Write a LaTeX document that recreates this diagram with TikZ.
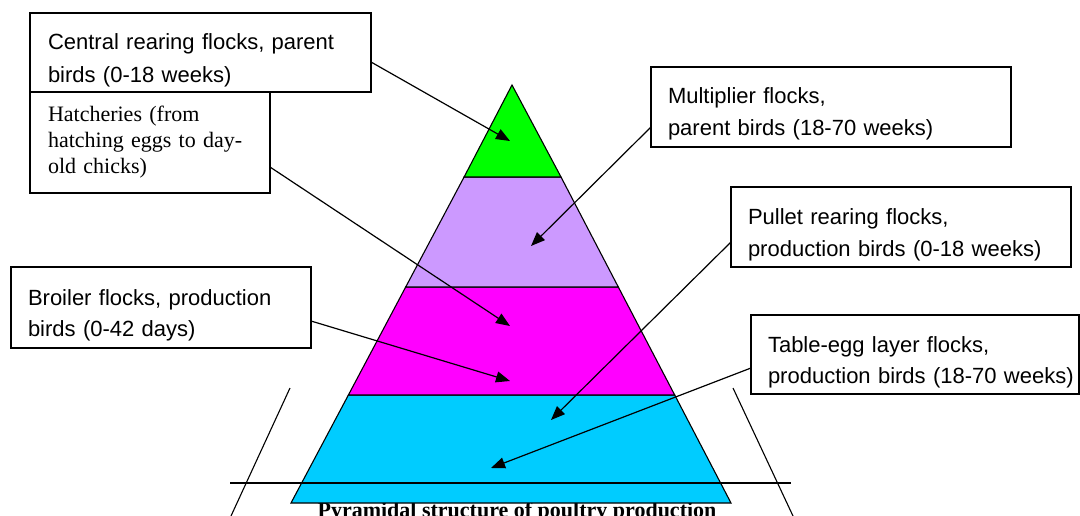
\documentclass[tikz,border=0pt]{standalone}
\usepackage{fontspec}
\setmainfont{Liberation Serif}
\newfontfamily\arial{Liberation Sans}
\usetikzlibrary{arrows.meta}
\definecolor{camadaverde}{RGB}{0,255,0}
\definecolor{camadalilas}{RGB}{204,153,255}
\definecolor{camadamagenta}{RGB}{255,0,255}
\definecolor{camadaciano}{RGB}{0,204,255}

\begin{document}
\begin{tikzpicture}[
        x=1pt, y=-1pt,
        >={Triangle[length=14pt, width=11pt]},
        quadro/.style={
            draw,
            fill=white,
            line width=1.1pt,
            anchor=north west,
            align=left,
            inner xsep=17pt,
            inner ysep=0pt,
            outer sep=0pt,
            font=\arial\fontsize{22}{32}\selectfont
        },
        flecha/.style={
            ->,
            line width=1.2pt
        },
        camada/.style={
            draw,
            line width=1.1pt
        },
        guia/.style={
            line width=1.1pt
        }
    ]
    \useasboundingbox (0,0) rectangle (1080,516);

    \node[font=\bfseries\fontsize{22}{26}\selectfont, anchor=base] (legenda) at (517,517)
        {Pyramidal structure of poultry production};

    % piramide
    \filldraw[camada, fill=camadaciano] (348.4,395) -- (674.7,395) -- (731,503) -- (291,503) -- cycle;
    \filldraw[camada, fill=camadamagenta] (405.7,287) -- (618.3,287) -- (674.7,395) -- (348.4,395) -- cycle;
    \filldraw[camada, fill=camadalilas] (464.1,177) -- (561,177) -- (618.3,287) -- (405.7,287) -- cycle;
    \filldraw[camada, fill=camadaverde] (512,85) -- (561,177) -- (464.1,177) -- cycle;

    \draw[guia] (230,483) -- (791,483);
    \draw[guia] (290,388) -- (231,516);
    \draw[guia] (733,388) -- (793,516);

    \node[quadro, inner xsep=18pt, text width=305pt, text height=37pt, text depth=42pt,
        font=\arial\fontsize{22}{33}\selectfont] (central) at (30,13) {
        Central rearing flocks, parent\\
        birds (0-18 weeks)
    };

    \node[quadro, inner xsep=18pt, text width=204pt, text height=30pt, text depth=71pt,
        font=\rmfamily\fontsize{22}{26}\selectfont] (incubatorio) at (30,92) {
        Hatcheries (from\\
        hatching eggs to day-\\
        old chicks)
    };

    \node[quadro, text width=326pt, text height=37pt, text depth=43pt] (multiplicador) at (651,67) {
        Multiplier flocks,\\
        parent birds (18-70 weeks)
    };

    \node[quadro, text width=306pt, text height=38pt, text depth=42pt] (frangas) at (731,187) {
        Pullet rearing flocks,\\
        production birds (0-18 weeks)
    };

    \node[quadro, text width=294pt, text height=37pt, text depth=42pt] (poedeiras) at (751,315) {
        Table-egg layer flocks,\\
        \mbox{production birds (18-70 weeks)}
    };

    \node[quadro, text width=266pt, text height=38pt, text depth=43pt] (frangos) at (11,267) {
        Broiler flocks, production\\
        birds (0-42 days)
    };

    \coordinate (pverde) at (510,141);
    \coordinate (plilas) at (531,246);
    \coordinate (pmagenta1) at (510,326);
    \coordinate (pmagenta2) at (510,381);
    \coordinate (pciano1) at (551,420);
    \coordinate (pciano2) at (491,468);

    \draw[flecha] ([yshift=-9.5pt]central.east) -- (pverde);
    \draw[flecha] ([yshift=-24.5pt]incubatorio.east) -- (pmagenta1);
    \draw[flecha] ([yshift=-20pt]multiplicador.west) -- (plilas);
    \draw[flecha] ([yshift=-15pt]frangas.west) -- (pciano1);
    \draw[flecha] ([yshift=-13.5pt]poedeiras.west) -- (pciano2);
    \draw[flecha] ([yshift=-13.5pt]frangos.east) -- (pmagenta2);

\end{tikzpicture}
\end{document}
